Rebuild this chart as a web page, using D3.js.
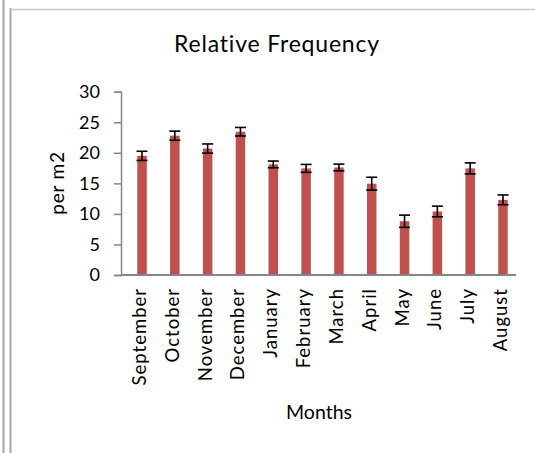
<!DOCTYPE html>
<html>
<head>
<meta charset="utf-8">
<script src="https://cdn.jsdelivr.net/npm/d3@7"></script>
<style>
  html, body { margin: 0; padding: 0; background: #fff; }
  svg { display: block; }
  text { font-family: Lato, "Open Sans", sans-serif; fill: #000; }
</style>
</head>
<body>
<svg id="chart" width="535" height="453"></svg>
<script>
const months = ["September","October","November","December","January","February","March","April","May","June","July","August"];
const values = [19.5, 22.8, 20.7, 23.45, 18.1, 17.45, 17.6, 14.95, 8.8, 10.4, 17.45, 12.3];
const errors = [0.75, 0.75, 0.75, 0.7, 0.55, 0.65, 0.55, 1.05, 1.0, 0.87, 0.9, 0.8];
const yTicks = [0, 5, 10, 15, 20, 25, 30];
const title = "Relative Frequency";
const xTitle = "Months";
const yTitle = "per m2";

const svg = d3.select("#chart");

// frame lines
svg.append("line").attr("x1", 3.5).attr("x2", 3.5).attr("y1", 0).attr("y2", 453).attr("stroke", "#a6a6a6").attr("stroke-width", 2);
svg.append("line").attr("x1", 10.5).attr("x2", 10.5).attr("y1", 8).attr("y2", 453).attr("stroke", "#a6a6a6").attr("stroke-width", 2);
svg.append("line").attr("x1", 10).attr("x2", 535).attr("y1", 9.5).attr("y2", 9.5).attr("stroke", "#c8c8c8").attr("stroke-width", 1.5);

const y = d3.scaleLinear().domain([0, 30]).range([275, 91.7]);
const x = d3.scaleBand().domain(months).range([125.6, 519.4]);
const barW = 9.5;

// bars
svg.append("g").selectAll("rect").data(months).join("rect")
  .attr("x", d => x(d) + x.bandwidth() / 2 - barW / 2)
  .attr("width", barW)
  .attr("y", (d, i) => y(values[i]))
  .attr("height", (d, i) => y(0) - y(values[i]))
  .attr("fill", "#C0504D");

// error bars
const eg = svg.append("g").attr("stroke", "#000").attr("stroke-width", 1.6);
months.forEach((m, i) => {
  const cx = x(m) + x.bandwidth() / 2;
  const top = y(values[i] + errors[i]), bot = y(values[i] - errors[i]);
  eg.append("line").attr("x1", cx).attr("x2", cx).attr("y1", top).attr("y2", bot);
  eg.append("line").attr("x1", cx - 5.5).attr("x2", cx + 5.5).attr("y1", top).attr("y2", top);
  eg.append("line").attr("x1", cx - 5.5).attr("x2", cx + 5.5).attr("y1", bot).attr("y2", bot);
});

// y axis
const yAxis = d3.axisLeft(y).tickValues(yTicks).tickSize(7).tickPadding(14);
const yg = svg.append("g").attr("transform", "translate(121,0)").call(yAxis);
yg.select(".domain").attr("stroke", "#868686").attr("stroke-width", 1.5);
yg.selectAll(".tick line").attr("stroke", "#868686").attr("stroke-width", 1.5);
yg.selectAll(".tick text").attr("font-size", 18)
  .attr("font-family", "Lato, sans-serif").attr("fill", "#000");

// x axis line
svg.append("line").attr("x1", 121).attr("x2", 516).attr("y1", 275).attr("y2", 275)
  .attr("stroke", "#868686").attr("stroke-width", 2);

// x labels
svg.append("g").selectAll("text").data(months).join("text")
  .attr("transform", d => `translate(${x(d) + x.bandwidth() / 2 + 4},288) rotate(-90)`)
  .attr("text-anchor", "end")
  .attr("font-size", 18.5)
  .attr("letter-spacing", 1)
  .text(d => d);

// titles
svg.append("text").attr("x", 277).attr("y", 52).attr("text-anchor", "middle")
  .attr("font-size", 23).attr("letter-spacing", 0.8).text(title);
svg.append("text").attr("x", 319).attr("y", 419).attr("text-anchor", "middle")
  .attr("font-size", 19.5).text(xTitle);
svg.append("text").attr("transform", "translate(64,183) rotate(-90)").attr("text-anchor", "middle")
  .attr("font-size", 19).attr("letter-spacing", 0.8).text(yTitle);
</script>
</body>
</html>
